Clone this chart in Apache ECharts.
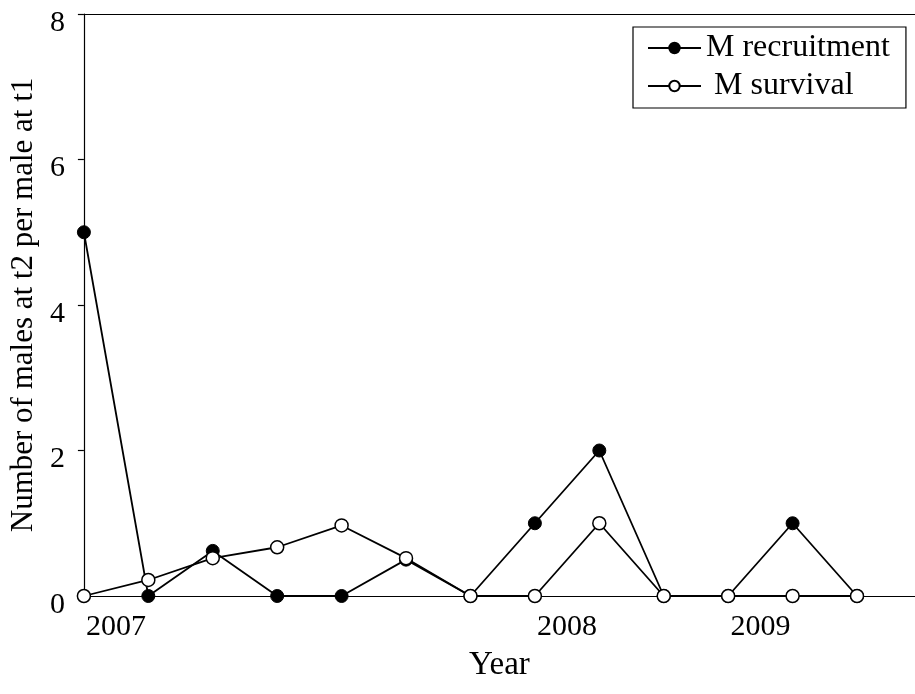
<!DOCTYPE html>
<html>
<head>
<meta charset="utf-8">
<script src="https://cdn.jsdelivr.net/npm/echarts@6/dist/echarts.min.js"></script>
<style>html,body{margin:0;padding:0;background:#fff}#c{width:915px;height:694px}</style>
</head>
<body>
<div id="c"></div>
<script>
// sampling occasions (index along the time axis)
const occasions = [0,1,2,3,4,5,6,7,8,9,10,11,12];
const recruitment = [5, 0, 0.62, 0, 0, 0.5, 0, 1, 2, 0, 0, 1, 0];
const survival    = [0, 0.22, 0.52, 0.67, 0.97, 0.52, 0, 0, 1, 0, 0, 0, 0];
// year tick labels placed between occasions
const yearPositions = [0.5, 7.5, 10.5];
const yearLabels = ['2007', '2008', '2009'];
const yTicks = [0, 2, 4, 6, 8];

const font = 'Liberation Serif';
const chart = echarts.init(document.getElementById('c'), null, {renderer: 'canvas'});
chart.setOption({
  animation: false,
  backgroundColor: '#fff',
  grid: {left: 80, right: 0, top: 14, bottom: 98},
  legend: {
    left: 633, top: 27,
    orient: 'vertical',
    itemWidth: 53, itemHeight: 13,
    itemGap: 6,
    padding: [5, 16, 6, 14],
    borderColor: '#000', borderWidth: 1.2,
    textStyle: {fontFamily: font, fontSize: 32, color: '#000'},
    data: [
      {name: 'M recruitment'},
      {name: ' M survival'}
    ]
  },
  xAxis: [{
    type: 'value', min: 0, max: 12.9, interval: 0.5,
    name: 'Year', nameLocation: 'middle', nameGap: 53,
    nameTextStyle: {fontFamily: font, fontSize: 33, color: '#000'},
    axisLine: {lineStyle: {color: '#000', width: 1.2}},
    axisTick: {show: false},
    splitLine: {show: false},
    axisLabel: {
      margin: 16, fontFamily: font, fontSize: 30, color: '#000',
      showMaxLabel: false, showMinLabel: true,
      formatter: v => { const i = yearPositions.findIndex(p => Math.abs(p - v) < 1e-6); return i >= 0 ? yearLabels[i] : ''; }
    }
  }, {
    type: 'value', position: 'top', min: 0, max: 12.9,
    axisLine: {show: true, lineStyle: {color: '#000', width: 1.2}},
    axisTick: {show: false}, axisLabel: {show: false}, splitLine: {show: false}
  }],
  yAxis: {
    type: 'value', min: yTicks[0], max: yTicks[yTicks.length - 1], interval: 2,
    name: 'Number of males at t2 per male at t1', nameLocation: 'middle', nameGap: 43,
    nameTextStyle: {fontFamily: font, fontSize: 31, color: '#000'},
    axisLine: {show: true, lineStyle: {color: '#000', width: 1.2}},
    axisTick: {show: true, inside: false, length: 6, lineStyle: {color: '#000', width: 1.2}},
    splitLine: {show: false},
    axisLabel: {margin: 19, fontFamily: font, fontSize: 30, color: '#000', verticalAlign: 'top', lineHeight: 18}
  },
  series: [{
    name: 'M recruitment', type: 'line',
    data: occasions.map((x, i) => [x, recruitment[i]]),
    symbol: 'circle', symbolSize: 13,
    lineStyle: {color: '#000', width: 1.8},
    itemStyle: {color: '#000', borderColor: '#000', borderWidth: 1},
    z: 2
  }, {
    name: ' M survival', type: 'line',
    data: occasions.map((x, i) => [x, survival[i]]),
    symbol: 'circle', symbolSize: 13,
    lineStyle: {color: '#000', width: 1.8},
    itemStyle: {color: '#fff', borderColor: '#000', borderWidth: 1.5},
    z: 3
  }]
});
</script>
</body>
</html>
